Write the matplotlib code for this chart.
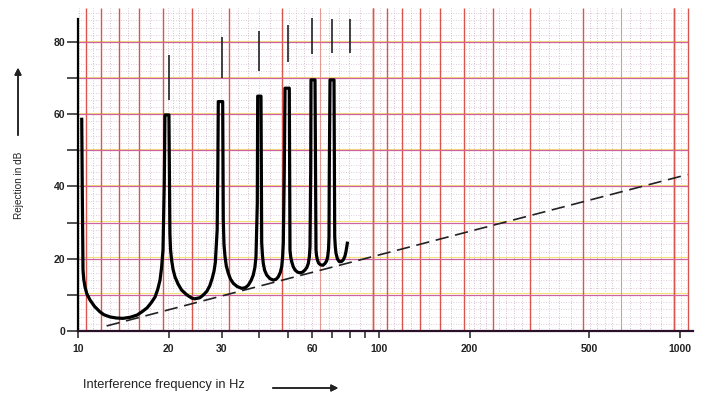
import matplotlib.pyplot as plt
from matplotlib.ticker import NullLocator

plt.rcParams['font.family'] = ['Liberation Sans', 'DejaVu Sans']

# rejection curve (Hz, dB), one row per dip
freq = [10.29, 10.33, 10.39, 10.45, 10.55, 10.70, 10.96, 11.35, 11.83, 12.20, 12.77, 13.40, 14.11, 14.90,
        15.70, 16.30, 16.96, 17.50, 18.03, 18.40, 18.73, 18.95, 19.16, 19.35, 19.45,
        20.05, 20.20, 20.30, 20.46, 20.70, 21.00, 21.50, 22.11, 23.00, 23.88, 24.40, 25.40, 26.10, 26.80,
        27.40, 27.90, 28.30, 28.60, 29.00, 29.15, 29.25,
        30.25, 30.39, 30.55, 30.79, 31.10, 31.58, 32.10, 32.81, 33.80, 34.99, 36.00, 36.80, 37.60, 38.23,
        38.70, 39.03, 39.42, 39.54,
        40.55, 40.77, 41.00, 41.27, 41.70, 42.36, 43.40, 44.56, 45.50, 46.29, 47.00, 47.51, 47.85, 48.10,
        48.47, 48.73,
        50.35, 50.62, 50.90, 51.29, 51.90, 52.60, 53.60, 54.65, 55.80, 56.78, 57.60, 58.23, 58.70, 59.00,
        59.32, 59.45,
        61.30, 61.77, 62.00, 62.37, 63.00, 64.03, 65.10, 66.17, 67.00, 67.56, 68.00, 68.23, 68.39, 68.76,
        70.89, 71.27, 71.60, 71.98, 72.80, 73.82, 75.00, 76.10, 77.00, 77.70, 78.50]
rejection = [58.6, 40, 16.9, 14.3, 12.2, 10.3, 8.6, 6.8, 5.3, 4.5, 3.9, 3.6, 3.5, 3.8,
             4.4, 5.3, 6.4, 7.8, 9.4, 11.5, 14.1, 17.5, 22.4, 41, 59.8,
             59.8, 27, 22.5, 19.7, 17, 15, 13, 11.3, 10, 9.1, 8.9, 9.2, 10, 11,
             12.5, 14.5, 16.5, 19, 28, 45, 63.5,
             63.5, 30.7, 24, 20.6, 18, 16, 14.4, 13.2, 12.3, 11.8, 12, 12.7, 14, 15.5,
             17.6, 20.6, 35.3, 65,
             65, 24.4, 21, 18.7, 16.8, 15.5, 14.5, 14.1, 14.3, 15, 16.2, 17.8, 20.5, 24.4,
             44.6, 67.2,
             67.2, 22.4, 20.5, 19.2, 17.8, 16.9, 16.3, 16.1, 16.3, 16.9, 17.6, 18.7, 20.5, 23.3,
             44.6, 69.5,
             69.5, 22.4, 21, 19.8, 18.8, 18.3, 18.2, 18.7, 19.4, 20.6, 22.8, 26.1, 44.6, 69.5,
             69.5, 26.1, 23.3, 21.5, 19.9, 19.2, 19.2, 19.7, 20.6, 22, 24.3]

# dashed reference line
ref_f = [12.45, 1060]
ref_db = [1.4, 43.3]

# short vertical bars above the peaks
bar_f = [20, 30, 40, 50, 60, 70, 80]
bar_lo = [63.9, 70, 72, 74.5, 76.7, 77, 77]
bar_hi = [76.4, 81.4, 83, 84.7, 86.6, 86.4, 86.4]

xticks = [10, 20, 30, 40, 50, 60, 70, 80, 90, 100, 200, 500, 1000]
xticklabels = ['10', '20', '30', '', '', '60', '', '', '', '100', '200', '500', '1000']

fig = plt.figure(figsize=(7.04, 3.95), dpi=100)
ax = fig.add_axes([78 / 704, 64 / 395, 615 / 704, 323 / 395])
ax.set_xscale('log')
ax.set_xlim(10, 1105)
ax.set_ylim(0, 89.4)

# graph paper (mirrored log decades)
px0, px1 = 10, 1066
py0, py1 = 0, 89.4
for start in [9.55, 95.5, 955]:
    subs = [1 + 0.1 * k for k in range(1, 10)] + [2 + 0.2 * k for k in range(1, 15) if k % 5] + \
           [5 + 0.5 * k for k in range(1, 10) if k % 2]
    for m in subs:
        f = start * 10 / m
        if px0 < f < px1:
            ax.vlines(f, py0, py1, color='#c9aabb', lw=0.6, linestyles=(0, (1, 2)), zorder=1)
    f = start * 10 / 1.5
    if px0 < f < px1:
        ax.vlines(f, py0, py1, color='#e59890', lw=0.8, zorder=1.2, snap=True)
    for m in range(1, 11):
        f = start * 10 / m
        if px0 < f < px1:
            ax.vlines(f, py0, py1, color='#d9544a', lw=1.0, zorder=1.2, snap=True)

for y in range(2, 90, 2):
    if y % 10:
        ax.hlines(y, px0, px1, color='#d2bed4', lw=0.6, linestyles=(0, (1, 2)), zorder=1)
for y in range(10, 90, 10):
    ax.hlines(y + 0.4, px0, px1, color='#f2e27a', lw=0.8, zorder=1.1)
    ax.hlines(y, px0, px1, color='#cf62a0', lw=0.9, zorder=1.3, snap=True)

ax.plot(freq, rejection, color='black', lw=2.3, solid_joinstyle='round', zorder=4, clip_on=False)
ax.plot(ref_f, ref_db, color='#222222', lw=1.2, linestyle=(0, (8, 4)), zorder=3)
ax.vlines(bar_f, bar_lo, bar_hi, color='#222222', lw=1.2, zorder=3)

for s in ['top', 'right']:
    ax.spines[s].set_visible(False)
ax.spines['left'].set_bounds(0, 86.4)
ax.spines['left'].set_linewidth(1.6)
ax.spines['bottom'].set_linewidth(1.6)
ax.spines['bottom'].set_color('#2a1028')
ax.set_facecolor('white')

ax.set_xticks(xticks)
ax.set_xticklabels(xticklabels)
ax.xaxis.set_minor_locator(NullLocator())
ax.set_yticks([0, 20, 40, 60, 80])
ax.set_yticks([10, 30, 50, 70], minor=True)
ax.tick_params(axis='x', direction='out', length=5, width=1.1, pad=4, labelsize=7.5, colors='#222222')
ax.tick_params(axis='y', which='both', direction='out', length=8, width=1.1, pad=1, labelsize=7.5,
               colors='#222222')
for lbl in ax.get_xticklabels() + ax.get_yticklabels():
    lbl.set_fontweight('bold')

fig.text(83 / 704, 1 - 385 / 395, 'Interference frequency in Hz', fontsize=9.3, color='#222222',
         ha='left', va='center')
fig.text(19 / 704, 1 - 185 / 395, 'Rejection in dB', fontsize=7.2, color='#222222',
         rotation=90, ha='center', va='center')
fig.add_artist(plt.annotate('', xy=(341 / 704, 1 - 388 / 395), xytext=(270 / 704, 1 - 388 / 395),
                            xycoords='figure fraction',
                            arrowprops=dict(arrowstyle='-|>', color='#222222', lw=1.1,
                                            mutation_scale=10)))
fig.add_artist(plt.annotate('', xy=(18 / 704, 1 - 65 / 395), xytext=(18 / 704, 1 - 138 / 395),
                            xycoords='figure fraction',
                            arrowprops=dict(arrowstyle='-|>', color='#222222', lw=1.1,
                                            mutation_scale=10)))

plt.savefig('out.png', dpi=100)
